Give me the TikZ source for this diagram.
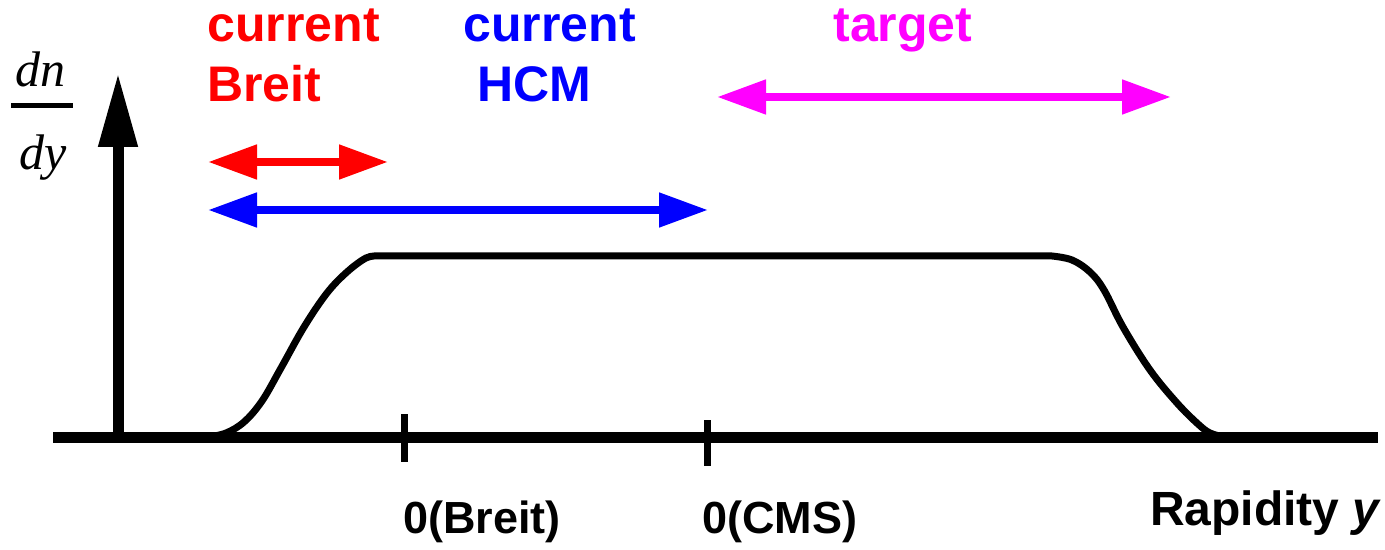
\documentclass[tikz,border=0pt]{standalone}
\usepackage{fontspec}
\setmainfont{Liberation Sans}
\newfontfamily\serifit{Liberation Serif}
\usetikzlibrary{arrows.meta,positioning}

\definecolor{tgtmag}{RGB}{255,0,255}

\begin{document}
\begin{tikzpicture}[x=0.5pt,y=-0.5pt]
	\tikzstyle{lbl} = [inner sep=0pt, anchor=base west, font=\fontsize{25}{30}\selectfont\bfseries]
	\tikzstyle{zlbl} = [inner sep=0pt, anchor=base west, font=\fontsize{22.5}{27}\selectfont\bfseries]
	\tikzstyle{spanarrow} = [line width=4pt, {Triangle[length=24.5pt,width=16.5pt]}-{Triangle[length=24.5pt,width=16.5pt]}]
	\tikzstyle{tickmark} = [line width=3.5pt]
	\useasboundingbox (0,0) rectangle (1385,550);

	% axes
	\coordinate (xl) at (53,437);
	\coordinate (xr) at (1378,437);
	\coordinate (yb) at (118,437);
	\coordinate (yt) at (118,73);
	\draw [line width=5.5pt] (xl) -- (xr);
	\draw [line width=5.5pt, -{Triangle[length=37pt,width=18.5pt]}] (yb) -- (yt);

	% dn/dy
	\node [inner sep=0pt, anchor=base, font=\fontsize{25}{30}\selectfont\serifit\itshape] (dn) at (41,87) {dn};
	\node [inner sep=0pt, anchor=base, font=\fontsize{25}{30}\selectfont\serifit\itshape] (dy) at (43,170) {dy};
	\coordinate (barl) at (11,106);
	\coordinate (barr) at (73,106);
	\draw [line width=2.5pt] (barl) -- (barr);

	% ticks
	\coordinate (tb1) at (404,414);
	\coordinate (tb2) at (404,462);
	\coordinate (tc1) at (707,420);
	\coordinate (tc2) at (707,466);
	\draw [tickmark] (tb1) -- (tb2);
	\draw [tickmark] (tc1) -- (tc2);

	% distribution
	\draw [line width=3.5pt, line join=round]
		plot [smooth, tension=0.6] coordinates {(208,437) (226,433) (244,422) (262,401) (281,368) (304,327) (327,293) (347,272) (366,258) (378,256)}
		-- plot [smooth, tension=0.6] coordinates {(1052,256) (1072,260) (1090,272) (1104,290) (1123,327) (1150,370) (1177,403) (1198,424) (1210,433) (1224,437)};

	% ranges
	\coordinate (rl) at (208,162);
	\coordinate (rr) at (388,162);
	\coordinate (bl) at (208,210);
	\coordinate (br) at (708,210);
	\coordinate (ml) at (717,97);
	\coordinate (mr) at (1171,97);
	\draw [spanarrow, red] (rl) -- (rr);
	\draw [spanarrow, blue] (bl) -- (br);
	\draw [spanarrow, tgtmag] (ml) -- (mr);

	% labels
	\node [lbl, red] (cur1) at (207,42) {current};
	\node [lbl, red] (breit) at (207,102) {Breit};
	\node [lbl, blue] (cur2) at (463,42) {current};
	\node [lbl, blue] (hcm) at (477,102) {HCM};
	\node [lbl, tgtmag] (tgt) at (833,42) {target};
	\node [zlbl] (zbreit) at (403,533) {0(Breit)};
	\node [zlbl] (zcms) at (702,533) {0(CMS)};
	\node [lbl, anchor=base east, font=\fontsize{24}{29}\selectfont\bfseries] (rap) at (1382,525) {Rapidity \textit{y}};
\end{tikzpicture}
\end{document}
